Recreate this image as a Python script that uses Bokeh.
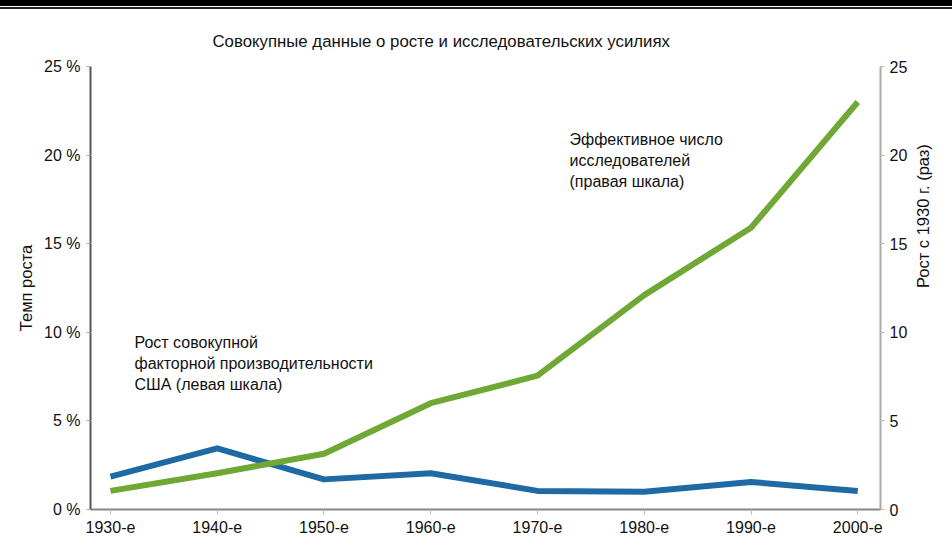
import math
from bokeh.plotting import figure
from bokeh.models import Range1d, LinearAxis, FixedTicker, Label, Title
from bokeh.embed import file_html
from bokeh.resources import INLINE

# ---- data ----
decades = ["1930-е", "1940-е", "1950-е", "1960-е", "1970-е", "1980-е", "1990-е", "2000-е"]
tfp_growth = [1.85, 3.45, 1.7, 2.05, 1.05, 1.0, 1.55, 1.05]        # % (left scale)
researchers = [1.05, 2.05, 3.15, 6.0, 7.55, 12.1, 15.9, 23.0]       # times since 1930 (right scale)
left_ticks = [0, 5, 10, 15, 20, 25]
left_tick_labels = ["0 %", "5 %", "10 %", "15 %", "20 %", "25 %"]
right_ticks = [0, 5, 10, 15, 20, 25]

title_text = "Совокупные данные о росте и исследовательских усилиях"
left_label = "Темп роста"
right_label = "Рост с 1930 г. (раз)"
note_researchers = "Эффективное число\nисследователей\n(правая шкала)"
note_tfp = "Рост совокупной\nфакторной производительности\nСША (левая шкала)"

FONT = "Liberation Sans"
BLUE = "#1f6aa5"
GREEN = "#6fa834"
TXT = "#111111"

xs = list(range(len(decades)))

p = figure(width=952, height=538, output_backend="svg", toolbar_location=None,
           x_range=Range1d(-0.187, 7.213), y_range=Range1d(0, 25),
           min_border_left=90, min_border_right=72, min_border_top=66, min_border_bottom=28)
p.title = Title(text=title_text, align="left", offset=122, text_font=FONT,
                text_font_size="16.8px", text_font_style="normal", text_color=TXT,
                standoff=31)
p.extra_y_ranges = {"right": Range1d(0, 25)}
p.styles = {"box-shadow": "inset 0px 6px 0px 0px #000000, inset 0px 7px 0px 0px #ffffff, inset 0px 9px 0px 0px #222222"}

p.outline_line_color = None
p.grid.visible = False
p.background_fill_color = "white"
p.border_fill_alpha = 0

# x axis
xa = p.xaxis[0]
xa.ticker = FixedTicker(ticks=xs)
xa.major_label_overrides = {i: d for i, d in enumerate(decades)}
xa.axis_line_color = "#888888"
xa.axis_line_width = 2
xa.major_tick_line_color = "#bbbbbb"
xa.major_tick_in = 0
xa.major_tick_out = 5
xa.minor_tick_line_color = None
xa.major_label_text_font = FONT
xa.major_label_text_font_size = "16px"
xa.major_label_text_color = TXT
xa.major_label_standoff = 4

# left axis
ya = p.yaxis[0]
ya.ticker = FixedTicker(ticks=left_ticks)
ya.major_label_overrides = {t: l for t, l in zip(left_ticks, left_tick_labels)}
ya.axis_line_color = "#555555"
ya.axis_line_width = 2
ya.major_tick_line_color = "#aaaaaa"
ya.major_tick_in = 0
ya.major_tick_out = 4
ya.minor_tick_line_color = None
ya.major_label_text_font = FONT
ya.major_label_text_font_size = "16px"
ya.major_label_text_color = TXT
ya.major_label_standoff = 6
ya.axis_label = left_label
ya.axis_label_text_font = FONT
ya.axis_label_text_font_size = "16.5px"
ya.axis_label_text_font_style = "normal"
ya.axis_label_text_color = TXT
ya.axis_label_standoff = 6

# right axis
ra = LinearAxis(y_range_name="right", ticker=FixedTicker(ticks=right_ticks))
ra.axis_line_color = "#aaaaaa"
ra.axis_line_width = 2
ra.major_tick_line_color = "#bbbbbb"
ra.major_tick_in = 0
ra.major_tick_out = 4
ra.minor_tick_line_color = None
ra.major_label_text_font = FONT
ra.major_label_text_font_size = "16px"
ra.major_label_text_color = TXT
ra.major_label_standoff = 5
ra.axis_label = right_label
ra.axis_label_text_font = FONT
ra.axis_label_text_font_size = "16.5px"
ra.axis_label_text_font_style = "normal"
ra.axis_label_text_color = TXT
ra.axis_label_standoff = 13
if "axis_label_orientation" in ra.properties():
    ra.axis_label_orientation = math.pi / 2
p.add_layout(ra, "right")

# lines
p.line(xs, tfp_growth, line_color=BLUE, line_width=6, line_join="round")
p.line(xs, researchers, line_color=GREEN, line_width=6, line_join="round", y_range_name="right")

# notes
p.add_layout(Label(x=4.30, y=21.35, text=note_researchers, text_font=FONT,
                   text_font_size="16px", text_color=TXT, text_baseline="top",
                   text_line_height=1.22))
p.add_layout(Label(x=0.225, y=9.9, text=note_tfp, text_font=FONT,
                   text_font_size="16px", text_color=TXT, text_baseline="top",
                   text_line_height=1.22))

open("out.html", "w").write(file_html(p, INLINE))
